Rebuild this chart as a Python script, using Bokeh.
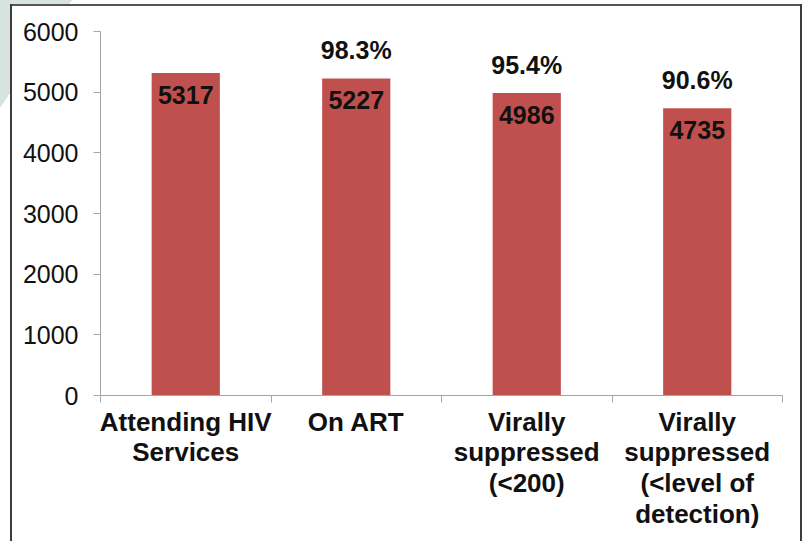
from bokeh.plotting import figure
from bokeh.models import FixedTicker, Range1d, ColumnDataSource
from bokeh.embed import file_html
from bokeh.resources import INLINE
from bokeh.core.properties import value

categories = ["Attending HIV\nServices", "On ART", "Virally\nsuppressed\n(<200)",
              "Virally\nsuppressed\n(<level of\ndetection)"]
counts = [5317, 5227, 4986, 4735]
percents = ["", "98.3%", "95.4%", "90.6%"]
y_ticks = [0, 1000, 2000, 3000, 4000, 5000, 6000]

FONT = "Liberation Sans"
BAR = "#C0504D"

xpos = [i + 0.5 for i in range(len(categories))]
src = ColumnDataSource(dict(x=xpos, top=counts, lab=[str(c) for c in counts], pct=percents))

p = figure(width=805, height=541, x_range=Range1d(0, len(categories)), y_range=Range1d(0, 6000),
           output_backend="svg", toolbar_location=None,
           min_border_left=100, min_border_right=23, min_border_top=31, min_border_bottom=146)
p.outline_line_color = None
p.xgrid.grid_line_color = None
p.ygrid.grid_line_color = None
p.background_fill_color = None
p.border_fill_color = None

# slide decoration (page background behind the transparent canvas)
p.styles = {
    "background": ", ".join([
        "linear-gradient(#3c3c3c, #3c3c3c) 10px 4px / 2px 100% no-repeat",
        "linear-gradient(#3c3c3c, #3c3c3c) 800px 4px / 2px 100% no-repeat",
        "linear-gradient(#555555, #555555) 10px 4px / 792px 2px no-repeat",
        "linear-gradient(#ffffff, #ffffff) 10px 4px / 792px 100% no-repeat",
        "linear-gradient(to bottom right, #D6E3E0 50%, rgba(255,255,255,0) 50%) 0px 0px / 72px 108px no-repeat",
        "#ffffff",
    ])
}

p.vbar(x="x", top="top", width=0.4, bottom=0, source=src, fill_color=BAR, line_color=None)

p.text(x="x", y="top", text="lab", source=src, text_font=value(FONT), text_font_size="25px",
       text_font_style="bold", text_align="center", text_baseline="top", y_offset=13, text_color="#111111")
p.text(x="x", y="top", text="pct", source=src, text_font=value(FONT), text_font_size="25px",
       text_font_style="bold", text_align="center", text_baseline="alphabetic", y_offset=-28,
       text_color="#111111")

xa = p.xaxis[0]
xa.ticker = FixedTicker(ticks=xpos, minor_ticks=list(range(len(categories) + 1)))
xa.major_label_overrides = {x: c for x, c in zip(xpos, categories)}
xa.major_tick_out = 0
xa.major_tick_in = 0
xa.minor_tick_out = 7
xa.minor_tick_in = 0
xa.minor_tick_line_color = "#A6A6A6"
xa.axis_line_color = "#A6A6A6"
xa.major_label_standoff = 4
xa.major_label_text_font = FONT
xa.major_label_text_font_size = "26px"
xa.major_label_text_font_style = "bold"
xa.major_label_text_color = "#111111"
xa.major_label_text_line_height = 1.03

ya = p.yaxis[0]
ya.ticker = FixedTicker(ticks=y_ticks, minor_ticks=[])
ya.major_tick_out = 7
ya.major_tick_in = 0
ya.major_tick_line_color = "#A6A6A6"
ya.axis_line_color = "#A6A6A6"
ya.major_label_standoff = 15
ya.major_label_text_font = FONT
ya.major_label_text_font_size = "25px"
ya.major_label_text_color = "#111111"

open("out.html", "w").write(file_html(p, INLINE))
